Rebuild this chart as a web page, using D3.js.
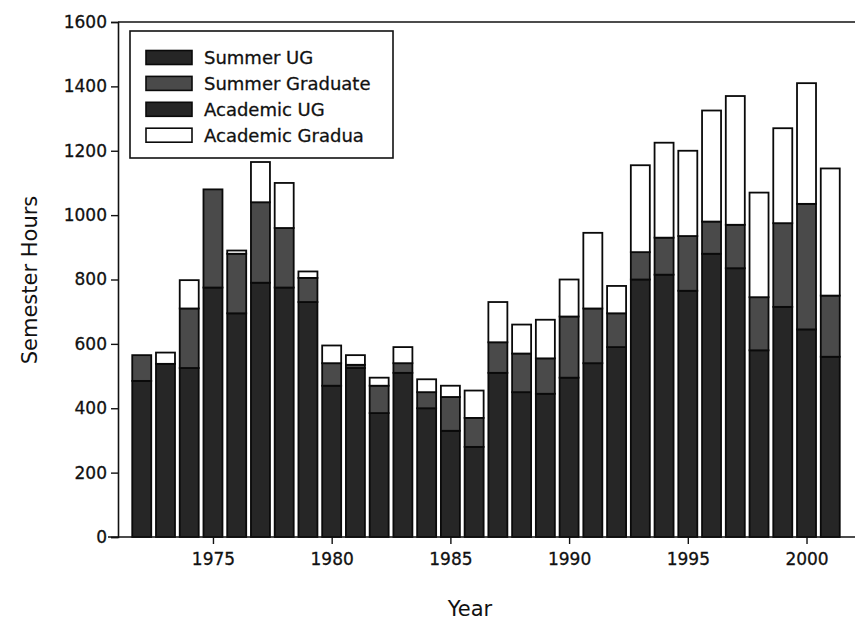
<!DOCTYPE html>
<html>
<head>
<meta charset="utf-8">
<script src="https://cdn.jsdelivr.net/npm/d3@7/dist/d3.min.js"></script>
<style>
  html, body { margin: 0; padding: 0; background: #ffffff; }
  svg { display: block; }
  text { font-family: "DejaVu Sans", "Liberation Sans", Arial, sans-serif; fill: #111; }
</style>
</head>
<body>
<svg id="chart" width="855" height="623"></svg>
<script>
// ---- data ----
const years = [1972,1973,1974,1975,1976,1977,1978,1979,1980,1981,
               1982,1983,1984,1985,1986,1987,1988,1989,1990,1991,
               1992,1993,1994,1995,1996,1997,1998,1999,2000,2001];
const summerUG        = [485,538,525,775,695,790,775,730,470,525,
                         385,510,400,330,280,510,450,445,495,540,
                         590,800,815,765,880,835,580,715,645,560];
const summerGraduate  = [ 80,  0,185,305,185,250,185, 75, 70, 10,
                          85, 30, 50,105, 90, 95,120,110,190,170,
                         105, 85,115,170,100,135,165,260,390,190];
const academicUG      = [  0,  0,  0,  0,  0,  0,  0,  0,  0,  0,
                           0,  0,  0,  0,  0,  0,  0,  0,  0,  0,
                           0,  0,  0,  0,  0,  0,  0,  0,  0,  0];
const academicGradua  = [  0, 35, 88,  0, 10,125,140, 20, 55, 30,
                          25, 50, 40, 35, 85,125, 90,120,115,235,
                          85,270,295,265,345,400,325,295,375,395];
const seriesNames = ["Summer UG","Summer Graduate","Academic UG","Academic Gradua"];
const yTicks = [0,200,400,600,800,1000,1200,1400,1600];
const xTicks = [1975,1980,1985,1990,1995,2000];

const table = years.map((yr, i) => ({
  year: yr,
  "Summer UG": summerUG[i],
  "Summer Graduate": summerGraduate[i],
  "Academic UG": academicUG[i],
  "Academic Gradua": academicGradua[i]
}));

const fills = {
  "Summer UG": "#262626",
  "Summer Graduate": "#4a4a4a",
  "Academic UG": "#262626",
  "Academic Gradua": "#ffffff"
};

const svg = d3.select("#chart");
const x = d3.scaleLinear().domain([1971, 2002]).range([118, 854]);
const y = d3.scaleLinear().domain([0, 1600]).range([537, 22]);
const barW = 19;

// top frame line
svg.append("line").attr("x1", 118).attr("x2", 855)
  .attr("y1", y(1600)).attr("y2", y(1600))
  .attr("stroke", "#111").attr("stroke-width", 1.5);

// bars
const stack = d3.stack().keys(seriesNames)(table);
svg.append("g").selectAll("g").data(stack).join("g")
  .attr("fill", d => fills[d.key])
  .selectAll("rect").data(d => d.filter(p => p[1] - p[0] > 0)).join("rect")
  .attr("x", d => x(d.data.year) - barW / 2)
  .attr("width", barW)
  .attr("y", d => y(d[1]))
  .attr("height", d => y(d[0]) - y(d[1]))
  .attr("stroke", "#0a0a0a")
  .attr("stroke-width", 1.8);

// y axis
const yAxis = svg.append("g").attr("transform", "translate(118,0)")
  .call(d3.axisLeft(y).tickValues(yTicks).tickSize(7).tickPadding(4).tickFormat(d3.format("d")));
yAxis.select(".domain").attr("stroke", "#111").attr("stroke-width", 1.6);
yAxis.selectAll(".tick line").attr("stroke", "#111").attr("stroke-width", 1.4);
yAxis.selectAll("text").style("font-size", "17px").attr("fill", "#111")
  .attr("stroke", "#111").attr("stroke-width", 0.3);

// x axis
const xAxis = svg.append("g").attr("transform", "translate(0,537)")
  .call(d3.axisBottom(x).tickValues(xTicks).tickSize(7).tickPadding(9).tickFormat(d3.format("d")));
xAxis.select(".domain").attr("d", "M108,0H855").attr("stroke", "#111").attr("stroke-width", 1.6);
xAxis.selectAll(".tick line").attr("stroke", "#111").attr("stroke-width", 1.4);
xAxis.selectAll("text").style("font-size", "17px").attr("fill", "#111")
  .attr("stroke", "#111").attr("stroke-width", 0.3);

// axis titles
svg.append("text").attr("x", 470).attr("y", 616).attr("text-anchor", "middle")
  .style("font-size", "21px").text("Year");
svg.append("text").attr("transform", "translate(37,280) rotate(-90)")
  .attr("text-anchor", "middle").style("font-size", "21px").text("Semester Hours");

// legend
const lg = svg.append("g");
lg.append("rect").attr("x", 130).attr("y", 31).attr("width", 263).attr("height", 127)
  .attr("fill", "#fff").attr("stroke", "#111").attr("stroke-width", 1.6);
seriesNames.forEach((name, i) => {
  const cy = 57.5 + i * 25.9;
  lg.append("rect").attr("x", 146).attr("y", cy - 7).attr("width", 46).attr("height", 14)
    .attr("fill", fills[name]).attr("stroke", "#0a0a0a").attr("stroke-width", 1.6);
  lg.append("text").attr("x", 204).attr("y", cy).attr("dy", "0.36em")
    .style("font-size", "18px").attr("stroke", "#111").attr("stroke-width", 0.3).text(name);
});
</script>
</body>
</html>
